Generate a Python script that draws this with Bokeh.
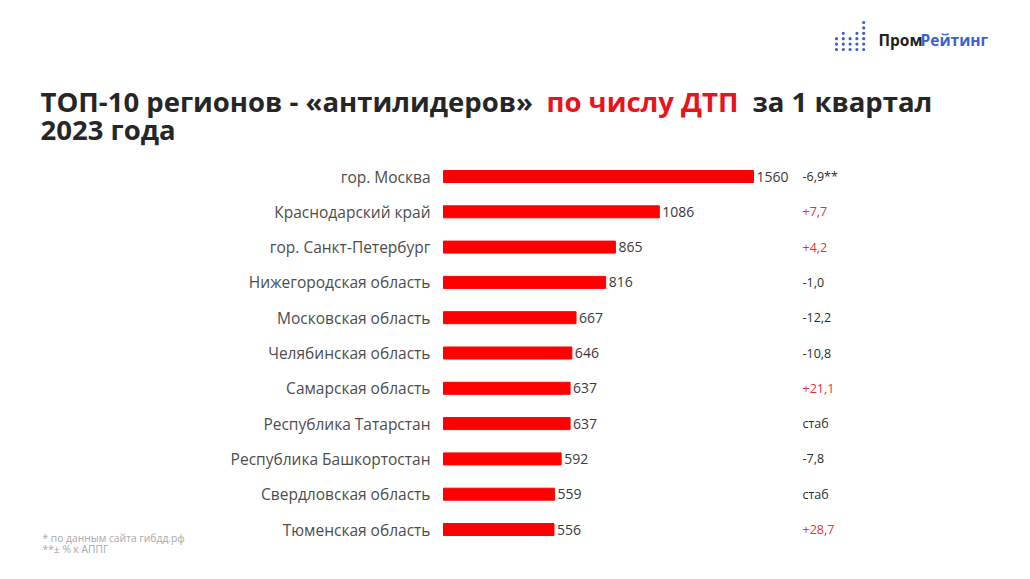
from bokeh.plotting import figure
from bokeh.models import Range1d, ColumnDataSource
from bokeh.core.properties import value
from bokeh.embed import file_html
from bokeh.resources import INLINE

# ---- data ----
regions = ["гор. Москва", "Краснодарский край", "гор. Санкт-Петербург",
           "Нижегородская область", "Московская область", "Челябинская область",
           "Самарская область", "Республика Татарстан", "Республика Башкортостан",
           "Свердловская область", "Тюменская область"]
accidents = [1560, 1086, 865, 816, 667, 646, 637, 637, 592, 559, 556]
changes = ["-6,9**", "+7,7", "+4,2", "-1,0", "-12,2", "-10,8", "+21,1",
           "стаб", "-7,8", "стаб", "+28,7"]

FONT = "Open Sans"
W, H = 1026, 575
ORG = 0  # page offset of the figure
# layout helpers: page pixel -> data coordinates
X0, PXU = 443.0, 1560 / 310.0      # bar origin on page, units per pixel
Y0, ROW = 176.0, 35.3              # first row centre on page, row pitch


def dx(px):
    return (px - X0) * PXU


def dy(py):
    return (py - Y0) / ROW


p = figure(width=W, height=H, output_backend="svg", toolbar_location=None,
           x_range=Range1d(dx(ORG), dx(ORG + W)), y_range=Range1d(dy(ORG + H), dy(ORG)),
           min_border=0, outline_line_color=None, background_fill_color="white",
           border_fill_color="white")
p.axis.visible = False
p.grid.visible = False

idx = list(range(len(regions)))
src = ColumnDataSource(dict(
    y=idx, v=accidents, r=regions, c=changes,
    cc=["#e0313a" if s.startswith("+") else "#2b2b2b" for s in changes],
))

p.hbar(y="y", left=0, right="v", height=12 / ROW, color="#ff0000", source=src)

p.text(x=dx(430), y="y", text="r", source=src, text_align="right",
       text_baseline="middle", text_font=value(FONT), text_font_size="15.5px",
       text_color="#4d4d4d")
p.text(x="v", y="y", text="v", source=src, x_offset=3, text_align="left",
       text_baseline="middle", text_font=value(FONT), text_font_size="14px",
       text_color="#3a3a3a")
p.text(x=dx(802), y="y", text="c", source=src, text_align="left",
       text_baseline="middle", text_font=value(FONT), text_font_size="12.5px",
       text_color="cc")

# ---- title ----
tkw = dict(text_baseline="alphabetic", text_align="left", text_font=value(FONT),
           text_font_size="27.5px", text_font_style="bold")
p.text(x=[dx(40)], y=[dy(101)], text=["ТОП-10 регионов - «антилидеров»"],
       text_color="#262626", **tkw)
p.text(x=[dx(546)], y=[dy(101)], text=["по числу ДТП"], text_color="#e8141c", **tkw)
p.text(x=[dx(752)], y=[dy(101)], text=["за 1 квартал"], text_color="#262626", **tkw)
p.text(x=[dx(40)], y=[dy(129)], text=["2023 года"], text_color="#262626", **tkw)

# ---- footnotes ----
p.text(x=[dx(42), dx(42)], y=[dy(537), dy(548)],
       text=["* по данным сайта гибдд.рф", "**± % к АППГ"], text_baseline="middle",
       text_font=value(FONT), text_font_size="10.3px", text_color="#a8a8a8")

# ---- logo ----
col_heights = [3, 4, 3, 4, 6]
lx, ly = [], []
for k, hgt in enumerate(col_heights):
    for j in range(hgt):
        lx.append(dx(836 + k * 6.8))
        ly.append(dy(49 - j * 5.4))
p.scatter(lx, ly, size=3.2, color="#3d5fd0", line_color=None)
p.text(x=[dx(878)], y=[dy(39)], text=["Пром"], text_baseline="middle",
       text_font=value(FONT), text_font_size="15.5px", text_font_style="bold",
       text_color="#222222")
p.text(x=[dx(920)], y=[dy(39)], text=["Рейтинг"], text_baseline="middle",
       text_font=value(FONT), text_font_size="15.5px", text_font_style="bold",
       text_color="#3d5fd0")

open("out.html", "w").write(file_html(p, INLINE))
